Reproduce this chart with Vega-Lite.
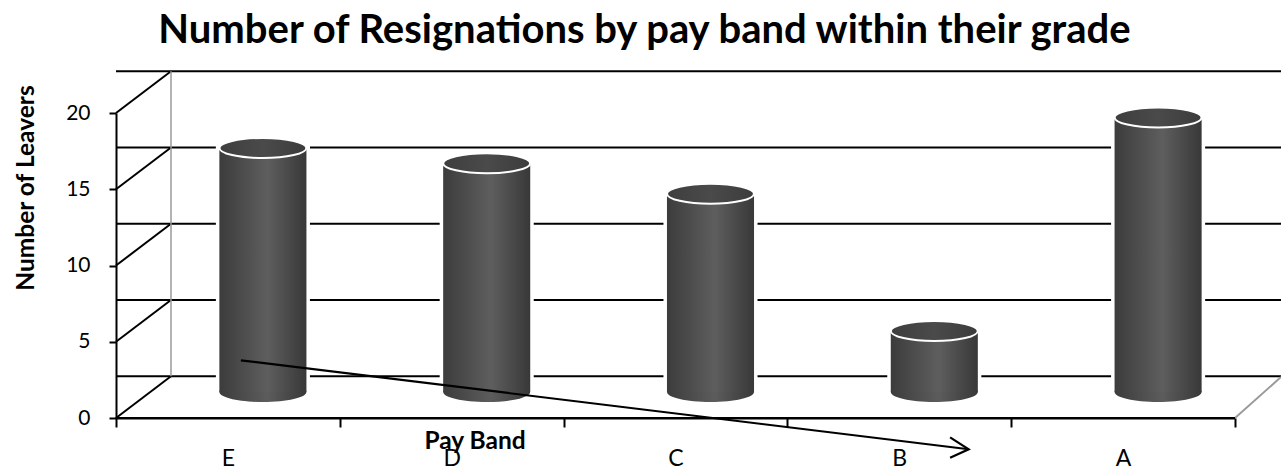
{
  "$schema": "https://vega.github.io/schema/vega-lite/v6.json",
  "autosize": {"type": "none"},
  "padding": {"left": 116, "top": 113, "right": 46, "bottom": 52},
  "width": 1119,
  "height": 305,
  "background": "white",
  "title": {"text": "Number of Resignations by pay band within their grade", "font": "Lato", "fontSize": 40, "fontWeight": "bold", "color": "black", "anchor": "middle", "dx": -31, "offset": 19},
  "config": {"view": {"stroke": null}, "axis": {"grid": false}},
  "datasets": {
    "bars": [
      {"band": "E", "leavers": 16},
      {"band": "D", "leavers": 15},
      {"band": "C", "leavers": 13},
      {"band": "B", "leavers": 4},
      {"band": "A", "leavers": 18}
    ],
    "grid": [{"v": 0}, {"v": 5}, {"v": 10}, {"v": 15}, {"v": 20}],
    "arrow": [
      {"seg": "shaft", "i": 0, "px": 0.558, "py": 3.78},
      {"seg": "shaft", "i": 1, "px": 3.81, "py": -2.05},
      {"seg": "head", "i": 0, "px": 3.727, "py": -1.27},
      {"seg": "head", "i": 1, "px": 3.81, "py": -2.05},
      {"seg": "head", "i": 2, "px": 3.727, "py": -2.6}
    ]
  },
  "resolve": {"scale": {"x": "independent"}, "axis": {"x": "independent"}},
  "layer": [
    {
      "data": {"name": "grid"},
      "mark": {"type": "rule", "color": "black", "strokeWidth": 2, "xOffset": 55, "x2Offset": 55, "yOffset": -41.7},
      "encoding": {"y": {"field": "v", "type": "quantitative", "scale": {"domain": [0, 20], "nice": false},
          "axis": {"title": "Number of Leavers", "titleFont": "Lato", "titleFontSize": 24.5, "titleFontWeight": "bold", "titleColor": "black", "titleX": -83, "titleY": 74.5, "titleBaseline": "alphabetic", "titleAnchor": null,
            "values": [0, 5, 10, 15, 20], "domain": true, "domainColor": "black", "domainWidth": 2, "ticks": true, "tickColor": "black", "tickWidth": 2, "tickSize": 7, "labelFont": "Lato", "labelFontSize": 21, "labelColor": "black", "labelPadding": 19}}}
    },
    {
      "data": {"name": "grid"},
      "mark": {"type": "rule", "color": "black", "strokeWidth": 2, "x2Offset": 55, "y2Offset": -41.7},
      "encoding": {
        "x": {"datum": 0, "type": "quantitative", "scale": {"domain": [0, 5], "nice": false, "zero": false}, "axis": null},
        "x2": {"datum": 0},
        "y": {"field": "v", "type": "quantitative"},
        "y2": {"field": "v"}
      }
    },
    {
      "data": {"values": [{}]},
      "mark": {"type": "rule", "color": "#9a9a9a", "strokeWidth": 1.5, "xOffset": 55, "yOffset": -41.7, "y2Offset": -41.7},
      "encoding": {
        "x": {"datum": 0, "type": "quantitative", "scale": {"domain": [0, 5], "nice": false, "zero": false}, "axis": null},
        "y": {"datum": 0, "type": "quantitative"},
        "y2": {"datum": 20}
      }
    },
    {
      "data": {"values": [{}]},
      "mark": {"type": "rule", "color": "#9a9a9a", "strokeWidth": 2, "x2Offset": 46, "y2Offset": -41},
      "encoding": {
        "x": {"datum": 5, "type": "quantitative", "scale": {"domain": [0, 5], "nice": false, "zero": false}, "axis": null},
        "x2": {"datum": 5},
        "y": {"datum": 0, "type": "quantitative"},
        "y2": {"datum": 0}
      }
    },
    {
      "data": {"values": [{}]},
      "mark": {"type": "rule", "color": "black", "strokeWidth": 2},
      "encoding": {
        "x": {"datum": 0, "type": "quantitative", "scale": {"domain": [0, 5], "nice": false, "zero": false}, "axis": null},
        "x2": {"datum": 5},
        "y": {"datum": 0, "type": "quantitative"}
      }
    },
    {
      "data": {"name": "bars"},
      "mark": {"type": "bar", "color": "white", "stroke": "white", "strokeWidth": 7, "width": {"band": 0.389}, "xOffset": 35, "yOffset": -26, "y2Offset": -26},
      "encoding": {
        "x": {"field": "band", "type": "nominal", "scale": {"type": "band", "domain": ["E", "D", "C", "B", "A"], "paddingInner": 0, "paddingOuter": 0}, "axis": null},
        "y": {"field": "leavers", "type": "quantitative"},
        "y2": {"datum": 0}
      }
    },
    {
      "data": {"name": "bars"},
      "mark": {"type": "point", "shape": "M-1,0A1,0.23,0,1,1,1,0A1,0.23,0,1,1,-1,0Z", "size": 7569, "filled": true, "fill": "white", "stroke": "white", "strokeWidth": 7, "opacity": 1, "xOffset": 35, "yOffset": -26},
      "encoding": {
        "x": {"field": "band", "type": "nominal", "scale": {"type": "band", "domain": ["E", "D", "C", "B", "A"], "paddingInner": 0, "paddingOuter": 0}, "axis": null},
        "y": {"field": "leavers", "type": "quantitative"}
      }
    },
    {
      "data": {"name": "bars"},
      "mark": {"type": "point", "shape": "M-1,0A1,0.23,0,1,1,1,0A1,0.23,0,1,1,-1,0Z", "size": 7569, "filled": true, "opacity": 1, "strokeWidth": 0, "xOffset": 35, "yOffset": -26,
        "fill": {"gradient": "linear", "x1": 0, "y1": 0, "x2": 1, "y2": 0, "stops": [{"offset": 0, "color": "#3c3c3c"}, {"offset": 0.55, "color": "#5c5c5c"}, {"offset": 1, "color": "#383838"}]}},
      "encoding": {
        "x": {"field": "band", "type": "nominal", "scale": {"type": "band", "domain": ["E", "D", "C", "B", "A"], "paddingInner": 0, "paddingOuter": 0}, "axis": null},
        "y": {"datum": 0, "type": "quantitative"}
      }
    },
    {
      "data": {"name": "bars"},
      "mark": {"type": "bar", "width": {"band": 0.389}, "xOffset": 35, "yOffset": -26, "y2Offset": -26,
        "color": {"gradient": "linear", "x1": 0, "y1": 0, "x2": 1, "y2": 0, "stops": [{"offset": 0, "color": "#3c3c3c"}, {"offset": 0.55, "color": "#5e5e5e"}, {"offset": 1, "color": "#383838"}]}},
      "encoding": {
        "x": {"field": "band", "type": "nominal", "scale": {"type": "band", "domain": ["E", "D", "C", "B", "A"], "paddingInner": 0, "paddingOuter": 0},
          "axis": {"title": "Pay Band", "titleFont": "Lato", "titleFontSize": 24.5, "titleFontWeight": "bold", "titleColor": "black", "titleX": 358.5, "titleY": 30, "titleBaseline": "alphabetic", "titleAnchor": null,
            "domain": true, "domainColor": "black", "domainWidth": 2, "ticks": true, "tickColor": "black", "tickWidth": 2, "tickSize": 9, "tickBand": "extent", "labelFont": "Lato", "labelFontSize": 23, "labelColor": "black", "labelPadding": 20, "labelAngle": 0}},
        "y": {"field": "leavers", "type": "quantitative"},
        "y2": {"datum": 0}
      }
    },
    {
      "data": {"name": "bars"},
      "mark": {"type": "point", "shape": "M-1,0A1,0.23,0,1,1,1,0A1,0.23,0,1,1,-1,0Z", "size": 7569, "filled": true, "opacity": 1, "stroke": "white", "strokeWidth": 2, "xOffset": 35, "yOffset": -26,
        "fill": {"gradient": "linear", "x1": 0, "y1": 0, "x2": 1, "y2": 0, "stops": [{"offset": 0, "color": "#3e3e3e"}, {"offset": 0.5, "color": "#4a4a4a"}, {"offset": 1, "color": "#3c3c3c"}]}},
      "encoding": {
        "x": {"field": "band", "type": "nominal", "scale": {"type": "band", "domain": ["E", "D", "C", "B", "A"], "paddingInner": 0, "paddingOuter": 0}, "axis": null},
        "y": {"field": "leavers", "type": "quantitative"}
      }
    },
    {
      "data": {"name": "arrow"},
      "mark": {"type": "line", "color": "black", "strokeWidth": 2.2},
      "encoding": {
        "x": {"field": "px", "type": "quantitative", "scale": {"domain": [0, 5], "nice": false, "zero": false}, "axis": null},
        "y": {"field": "py", "type": "quantitative"},
        "detail": {"field": "seg"},
        "order": {"field": "i"}
      }
    }
  ]
}
